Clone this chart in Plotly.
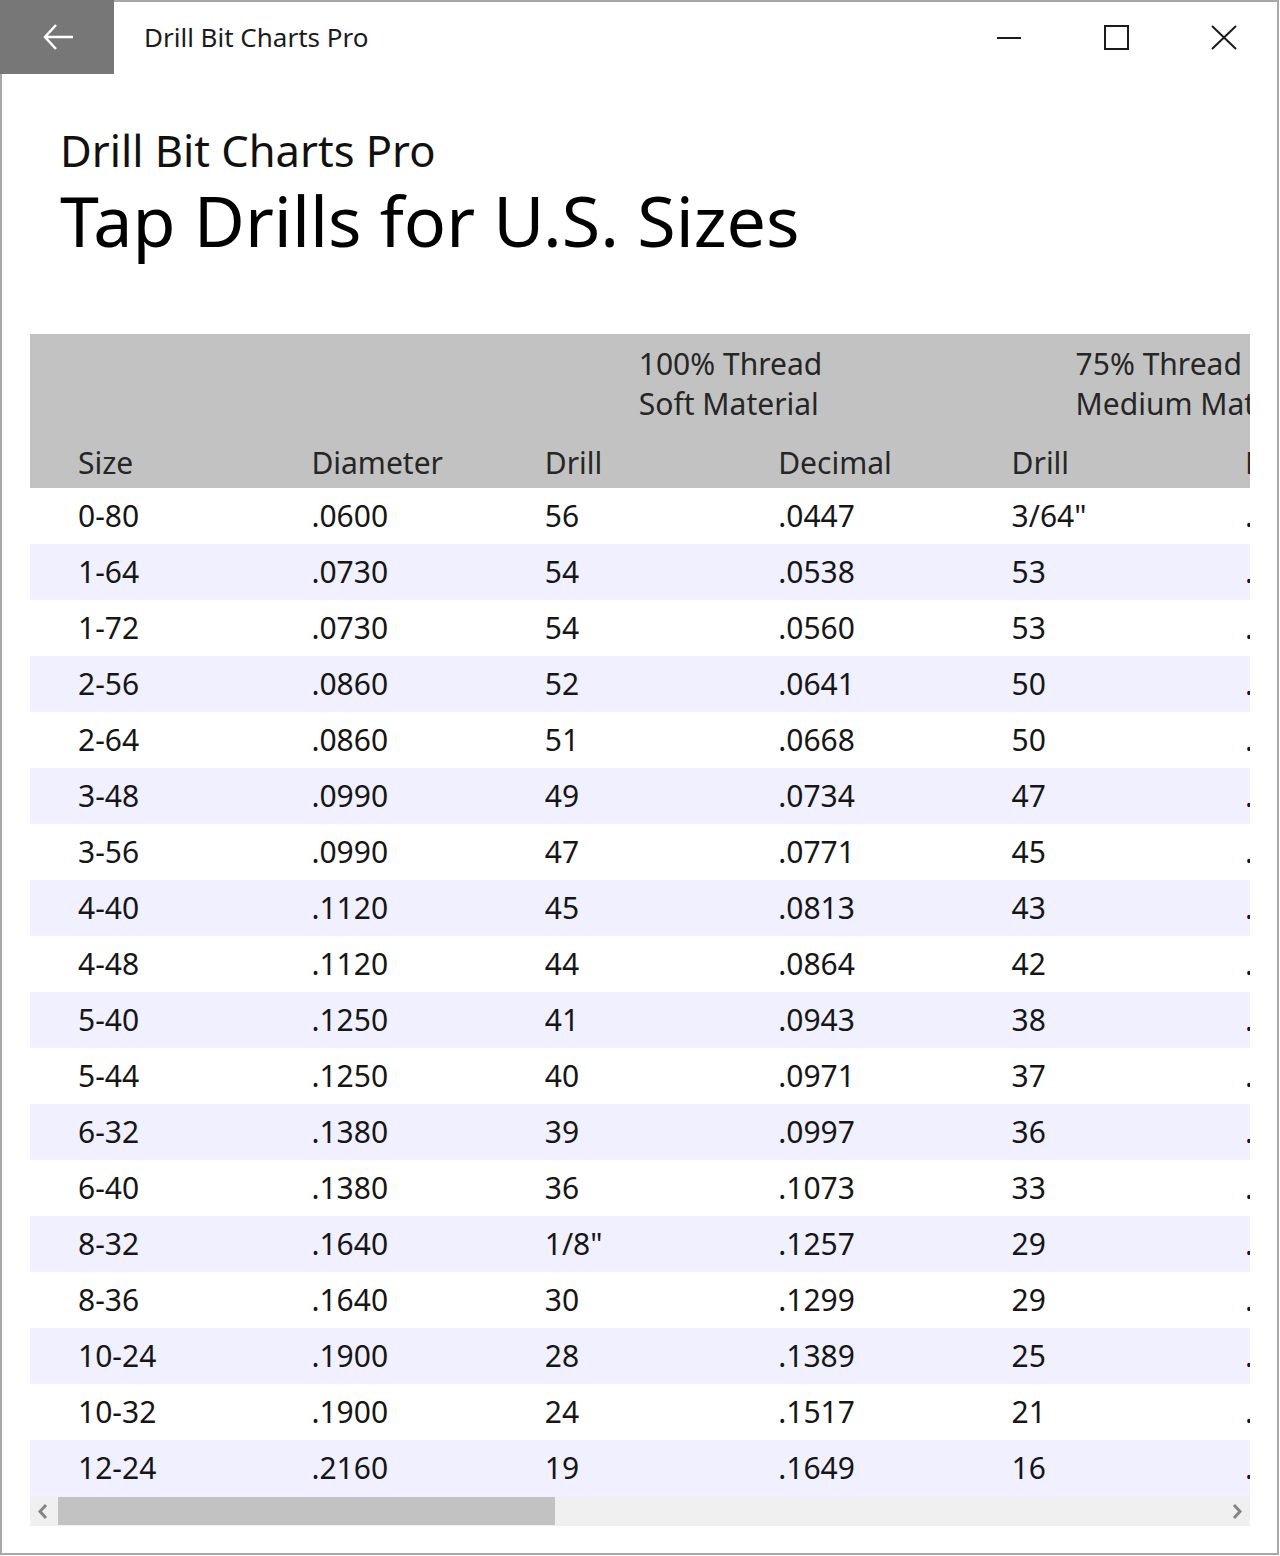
import plotly.graph_objects as go

# Table contents (Tap Drills for U.S. Sizes)
SIZES = ["0-80", "1-64", "1-72", "2-56", "2-64", "3-48", "3-56", "4-40", "4-48",
         "5-40", "5-44", "6-32", "6-40", "8-32", "8-36", "10-24", "10-32", "12-24"]
DIAMETER = [".0600", ".0730", ".0730", ".0860", ".0860", ".0990", ".0990", ".1120", ".1120",
            ".1250", ".1250", ".1380", ".1380", ".1640", ".1640", ".1900", ".1900", ".2160"]
DRILL_100 = ["56", "54", "54", "52", "51", "49", "47", "45", "44",
             "41", "40", "39", "36", '1/8"', "30", "28", "24", "19"]
DECIMAL_100 = [".0447", ".0538", ".0560", ".0641", ".0668", ".0734", ".0771", ".0813", ".0864",
               ".0943", ".0971", ".0997", ".1073", ".1257", ".1299", ".1389", ".1517", ".1649"]
DRILL_75 = ['3/64"', "53", "53", "50", "50", "47", "45", "43", "42",
            "38", "37", "36", "33", "29", "29", "25", "21", "16"]
DECIMAL_75 = [".0469", ".0595", ".0595", ".0700", ".0700", ".0785", ".0820", ".0890", ".0935",
              ".1015", ".1040", ".1065", ".1130", ".1360", ".1360", ".1495", ".1590", ".1770"]

COLUMNS = ["Size", "Diameter", "Drill", "Decimal", "Drill", "Decimal"]
GROUPS = [("100% Thread", "Soft Material"), ("75% Thread", "Medium Material")]

FONT = "Noto Sans, Open Sans, sans-serif"
TXT = "#161616"
HEAD_TXT = "#262626"
HEAD_BG = "#c2c2c2"
STRIPE = "#f0f0fe"

W, H = 1280, 1556
L, R, T, B = 30, 30, 334, 60          # plot area = table viewport
COL = 233.4                            # column pitch in px
ROW = 56                               # row pitch in px
TEXT_DY = 3 / ROW                      # glyphs sit a little low in their rows


def px(x):
    return (x - L) / (W - L - R)


def py(y):
    return (H - B - y) / (H - T - B)


cols = [SIZES, DIAMETER, DRILL_100, DECIMAL_100, DRILL_75, DECIMAL_75]
n = len(SIZES)
rows = list(range(n))
x_left = -(78 - L) / COL
x_right = (W - R - 78) / COL
y_top = -(516 - T) / ROW
y_bot = (H - B - 516) / ROW

fig = go.Figure()

# header background and row stripes
fig.add_trace(go.Bar(
    y=[(y_top - 0.5) / 2], x=[x_right - x_left + 1], base=x_left,
    width=[-0.5 - y_top], orientation="h",
    marker=dict(color=HEAD_BG, line=dict(width=0)), hoverinfo="skip", showlegend=False))
odd = [r for r in rows if r % 2 == 1]
fig.add_trace(go.Bar(
    y=odd, x=[x_right - x_left + 1] * len(odd), base=x_left, width=1,
    orientation="h", marker=dict(color=STRIPE, line=dict(width=0)),
    hoverinfo="skip", showlegend=False))

# cell text
for j, values in enumerate(cols):
    fig.add_trace(go.Scatter(
        x=[j] * n, y=[r + TEXT_DY for r in rows], text=values, mode="text",
        textposition="middle right",
        textfont=dict(family=FONT, size=30, color=TXT), cliponaxis=True,
        hoverinfo="skip", showlegend=False))

# column headers
fig.add_trace(go.Scatter(
    x=list(range(len(COLUMNS))), y=[-(516 - 463) / ROW + TEXT_DY] * len(COLUMNS), text=COLUMNS,
    mode="text", textposition="middle right",
    textfont=dict(family=FONT, size=30, color=HEAD_TXT), cliponaxis=True,
    hoverinfo="skip", showlegend=False))

# group headers (two lines each)
gx = [2 + (638 - 544) / COL, 4 + (1075 - 1011) / COL]
for k, line_y in enumerate([-(516 - 364) / ROW, -(516 - 404) / ROW]):
    fig.add_trace(go.Scatter(
        x=gx, y=[line_y + TEXT_DY] * len(gx), text=[g[k] for g in GROUPS],
        mode="text", textposition="middle right",
        textfont=dict(family=FONT, size=30, color=HEAD_TXT), cliponaxis=True,
        hoverinfo="skip", showlegend=False))

shapes = [
    # window border
    dict(type="rect", xref="paper", yref="paper", x0=px(1), x1=px(W - 2), y0=py(1), y1=py(H - 2),
         line=dict(color="#a8a8a8", width=2), layer="above"),
    # back button
    dict(type="rect", xref="paper", yref="paper", x0=px(0), x1=px(114), y0=py(0), y1=py(74),
         fillcolor="#777777", line=dict(width=0)),
    dict(type="path", xref="paper", yref="paper",
         path=f"M {px(73)} {py(37)} L {px(45)} {py(37)} M {px(56)} {py(25)} L {px(45)} {py(37)} L {px(56)} {py(49)}",
         line=dict(color="white", width=2.5)),
    # window controls
    dict(type="line", xref="paper", yref="paper", x0=px(997), x1=px(1021), y0=py(38), y1=py(38),
         line=dict(color="#1b1b1b", width=2)),
    dict(type="rect", xref="paper", yref="paper", x0=px(1105), x1=px(1128), y0=py(26), y1=py(49),
         line=dict(color="#1b1b1b", width=2)),
    dict(type="path", xref="paper", yref="paper",
         path=f"M {px(1212)} {py(26)} L {px(1236)} {py(49)} M {px(1236)} {py(26)} L {px(1212)} {py(49)}",
         line=dict(color="#1b1b1b", width=2)),
    # horizontal scrollbar
    dict(type="rect", xref="paper", yref="paper", x0=px(30), x1=px(1250), y0=py(1496), y1=py(1526),
         fillcolor="#f0f0f0", line=dict(width=0)),
    dict(type="rect", xref="paper", yref="paper", x0=px(58), x1=px(555), y0=py(1497), y1=py(1525),
         fillcolor="#c2c2c2", line=dict(width=0)),
    dict(type="path", xref="paper", yref="paper",
         path=f"M {px(46)} {py(1505)} L {px(40)} {py(1511.5)} L {px(46)} {py(1518)}",
         line=dict(color="#858585", width=3)),
    dict(type="path", xref="paper", yref="paper",
         path=f"M {px(1234)} {py(1505)} L {px(1240)} {py(1511.5)} L {px(1234)} {py(1518)}",
         line=dict(color="#858585", width=3)),
]

annotations = [
    dict(text="Drill Bit Charts Pro", x=px(142), y=py(37), xanchor="left", yanchor="middle",
         font=dict(family=FONT, size=26, color="#1b1b1b")),
    dict(text="Drill Bit Charts Pro", x=px(58), y=py(150), xanchor="left", yanchor="middle",
         font=dict(family=FONT, size=43.5, color="#111111")),
    dict(text="Tap Drills for U.S. Sizes", x=px(58), y=py(220), xanchor="left", yanchor="middle",
         font=dict(family=FONT, size=70, color="#000000")),
]
for a in annotations:
    a.update(xref="paper", yref="paper", showarrow=False)

fig.update_layout(
    width=W, height=H,
    margin=dict(l=L, r=R, t=T, b=B),
    paper_bgcolor="white", plot_bgcolor="white",
    barmode="overlay", bargap=0,
    xaxis=dict(range=[x_left, x_right], visible=False, fixedrange=True),
    yaxis=dict(range=[y_bot, y_top], visible=False, fixedrange=True),
    shapes=shapes, annotations=annotations,
    showlegend=False,
)

fig.write_html("out.html", config={"displayModeBar": False},
               post_script="document.body.style.margin='0';")
